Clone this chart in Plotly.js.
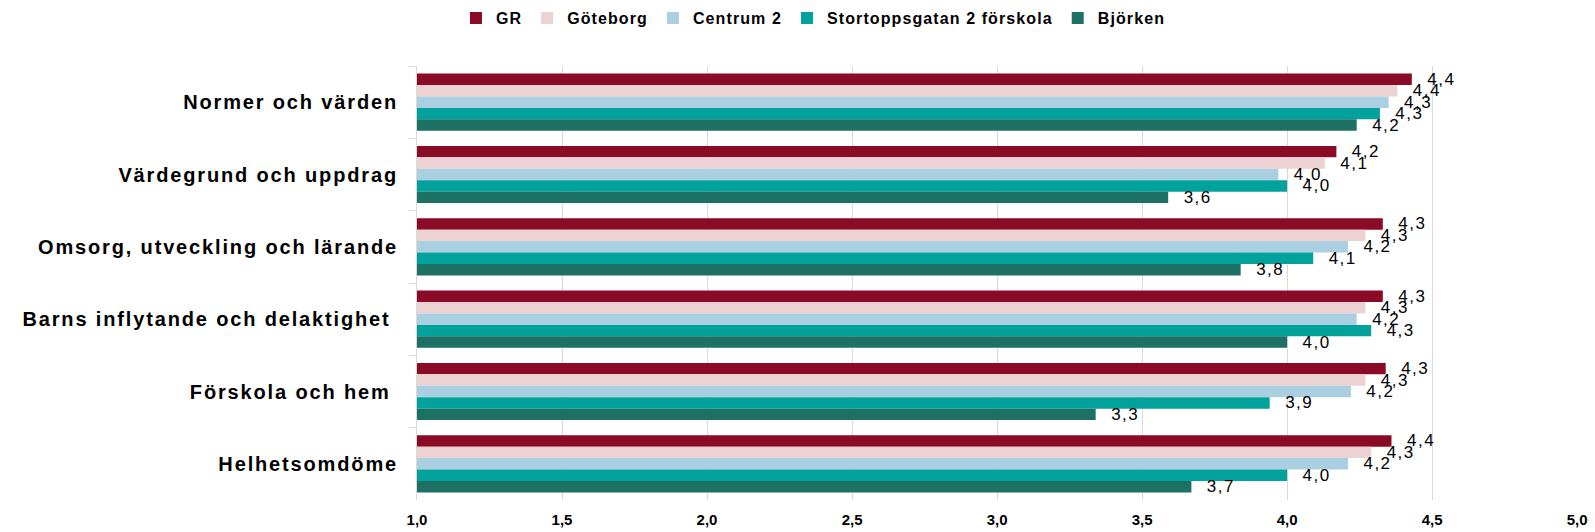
<!DOCTYPE html>
<html>
<head>
<meta charset="utf-8">
<script src="https://cdn.plot.ly/plotly-3.0.1.min.js"></script>
<style>
  body { margin: 0; background: #fff; }
  #chart { width: 1595px; height: 532px; }
  .ytick text { letter-spacing: 1.85px; }
  .legendtext { letter-spacing: 1.1px; }
  .bartext text, text.bartext { letter-spacing: 1.5px; }
</style>
</head>
<body>
<div id="chart"></div>
<script>
const categories = [
  "Normer och värden",
  "Värdegrund och uppdrag",
  "Omsorg, utveckling och lärande",
  "Barns inflytande och delaktighet ",
  "Förskola och hem ",
  "Helhetsomdöme"
];
const seriesNames = ["GR", "Göteborg", "Centrum 2", "Stortoppsgatan 2 förskola", "Björken"];
const GR          = [4.43, 4.17, 4.33, 4.33, 4.34, 4.36];
const Goteborg    = [4.38, 4.13, 4.27, 4.27, 4.27, 4.29];
const Centrum2    = [4.35, 3.97, 4.21, 4.24, 4.22, 4.21];
const Stortopps   = [4.32, 4.00, 4.09, 4.29, 3.94, 4.00];
const Bjorken     = [4.24, 3.59, 3.84, 4.00, 3.34, 3.67];
const seriesValues = [GR, Goteborg, Centrum2, Stortopps, Bjorken];
const colors = ["#8B0A25", "#EDD2D3", "#A9CFE1", "#00A29B", "#1C7064"];
const xTicks = [1.0, 1.5, 2.0, 2.5, 3.0, 3.5, 4.0, 4.5, 5.0];

const FONT = "Liberation Sans, Arial, sans-serif";
const NARROW = "Liberation Sans Narrow, Arial Narrow, Liberation Sans, sans-serif";

const traces = seriesNames.map((name, i) => ({
  type: "bar",
  orientation: "h",
  name: name,
  y: categories,
  x: seriesValues[i],
  base: 0,
  marker: { color: colors[i], line: { width: 0 } },
  texttemplate: "\u00a0\u00a0%{x:.1f}",
  textposition: "outside",
  constraintext: "none",
  cliponaxis: false,
  textfont: { family: FONT, size: 17, color: "#000" },
  hoverinfo: "skip"
}));

const layout = {
  width: 1595,
  height: 532,
  margin: { l: 417, r: 17, t: 66, b: 32, pad: 0 },
  paper_bgcolor: "#fff",
  plot_bgcolor: "#fff",
  barmode: "group",
  bargap: 0.21,
  bargroupgap: 0,
  separators: ",.",
  showlegend: true,
  legend: {
    orientation: "h",
    xref: "container",
    yref: "container",
    x: 0.51,
    xanchor: "center",
    y: 0.966,
    yanchor: "middle",
    font: { family: FONT, size: 16, color: "#000", weight: "bold" },
    tracegroupgap: 0,
    itemwidth: 30
  },
  xaxis: {
    range: [1, 5.003],
    tickvals: xTicks,
    tickformat: ".1f",
    showgrid: true,
    gridcolor: "#d9d9d9",
    gridwidth: 1,
    zeroline: false,
    showline: false,
    ticks: "",
    ticklabelstandoff: 9,
    tickfont: { family: NARROW, size: 15, color: "#000", weight: "bold" },
    fixedrange: true
  },
  yaxis: {
    type: "category",
    autorange: "reversed",
    showgrid: false,
    zeroline: false,
    showline: true,
    linecolor: "#d9d9d9",
    linewidth: 1,
    ticks: "outside",
    tickson: "boundaries",
    ticklen: 7,
    tickcolor: "#d9d9d9",
    tickwidth: 1,
    ticklabelstandoff: 14,
    tickfont: { family: FONT, size: 20, color: "#000", weight: "bold" },
    fixedrange: true
  }
};

Plotly.newPlot("chart", traces, layout, { displayModeBar: false, staticPlot: true });
</script>
</body>
</html>
